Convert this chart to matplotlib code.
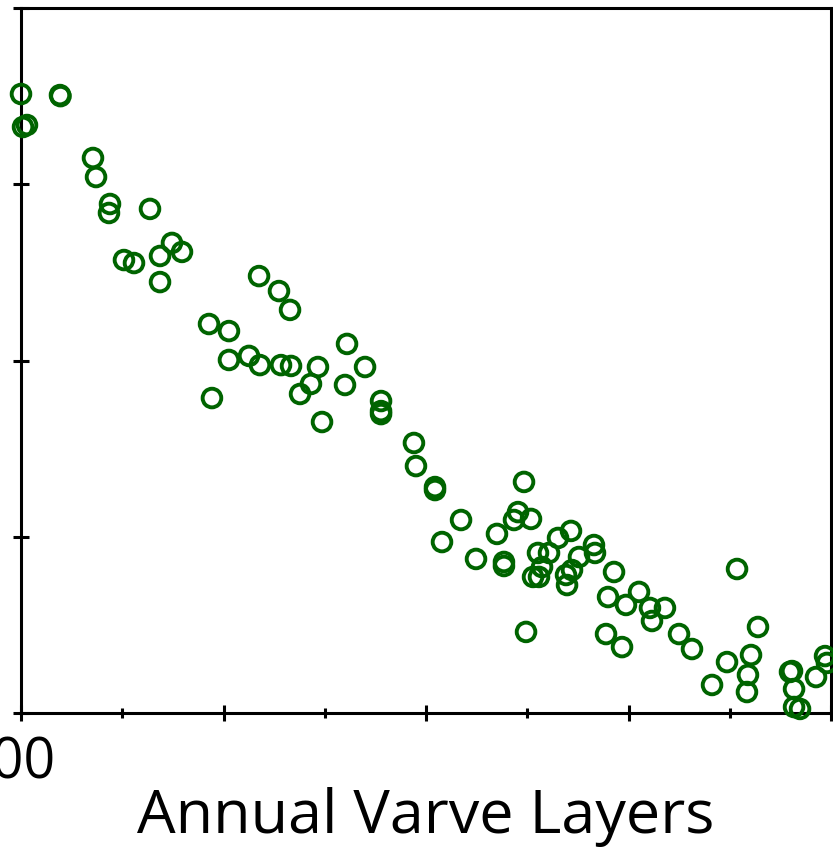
import matplotlib
matplotlib.use("Agg")
from matplotlib import pyplot as plt
from matplotlib.ticker import MultipleLocator
from matplotlib.transforms import ScaledTranslation

plt.rcParams['font.family'] = ['Open Sans', 'DejaVu Sans']

# varve layer count vs. value
layers = [100.0, 138.5, 139.0, 102.0, 105.9, 171.1, 174.1, 187.9, 186.9, 227.4,
          201.7, 211.6, 237.3, 249.1, 259.0, 237.3, 335.1, 354.8, 365.7, 285.7,
          305.4, 305.4, 325.2, 336.0, 356.8, 366.7, 393.3, 422.0, 439.8, 386.4,
          375.6, 420.0, 288.6, 397.3, 455.6, 455.6, 455.6, 488.1, 490.1, 508.9,
          508.9, 534.6, 515.8, 549.4, 570.1, 577.0, 577.0, 596.8, 590.9, 586.9,
          603.7, 610.6, 621.5, 630.4, 643.2, 614.6, 605.7, 611.6, 639.3, 638.3,
          644.2, 651.1, 665.9, 666.9, 685.7, 679.8, 598.8, 677.8, 693.6, 697.5,
          710.4, 721.2, 723.2, 736.0, 749.9, 762.7, 807.2, 827.9, 797.3, 782.5,
          821.0, 818.0, 817.0, 859.5, 861.5, 863.5, 863.5, 869.4, 885.2, 894.1,
          896.0]
values = [35.12, 35.06, 35.00, 33.25, 33.36, 31.49, 30.41, 28.88, 28.37, 28.60,
          25.70, 25.53, 25.93, 26.67, 26.16, 24.45, 24.79, 23.94, 22.87, 22.07,
          21.67, 20.03, 20.26, 19.74, 19.74, 19.69, 19.63, 20.94, 19.63, 18.67,
          18.10, 18.61, 17.87, 16.51, 17.70, 17.13, 16.96, 15.32, 14.01, 12.82,
          12.65, 10.95, 9.70, 8.74, 10.16, 8.57, 8.34, 13.11, 11.40, 10.95,
          11.01, 9.08, 9.08, 9.93, 10.33, 8.28, 7.72, 7.72, 7.26, 7.83,
          8.11, 8.85, 9.53, 9.08, 8.00, 6.58, 4.60, 4.48, 3.74, 6.13,
          6.87, 5.96, 5.22, 5.96, 4.48, 3.63, 8.17, 4.88, 2.89, 1.59,
          3.29, 2.16, 1.19, 2.33, 2.38, 1.36, 0.34, 0.23, 2.04, 3.23,
          2.84]

xticks = [100, 300, 500, 700, 900]
xtick_labels = ['100', '', '', '', '']
yticks = [0, 10, 20, 30, 40]

fig = plt.figure(figsize=(8.33, 8.52), dpi=100, facecolor='w')
ax = fig.add_axes([21/833, 1 - 713/852, 810/833, 705/852])

ax.scatter(layers, values, s=180, facecolors='none', edgecolors='#006400',
           linewidths=2.8, clip_on=False, zorder=3)

ax.set_xlim(100, 900)
ax.set_ylim(0, 40)
ax.set_xticks(xticks)
ax.set_xticklabels(xtick_labels)
ax.xaxis.set_minor_locator(MultipleLocator(100))
ax.set_yticks(yticks)
ax.set_yticklabels([])

for s in ax.spines.values():
    s.set_linewidth(2.2)
ax.tick_params(axis='both', which='major', direction='inout', length=11,
               width=2.2, labelsize=40, pad=11)
ax.tick_params(axis='x', which='minor', direction='inout', length=7, width=2.2)
ax.set_xlabel("Annual Varve Layers", fontsize=44, labelpad=-4)

shift = ScaledTranslation(-13/100, 0, fig.dpi_scale_trans)
for lab in ax.get_xticklabels():
    lab.set_transform(lab.get_transform() + shift)

fig.savefig("out.png", dpi=100)
